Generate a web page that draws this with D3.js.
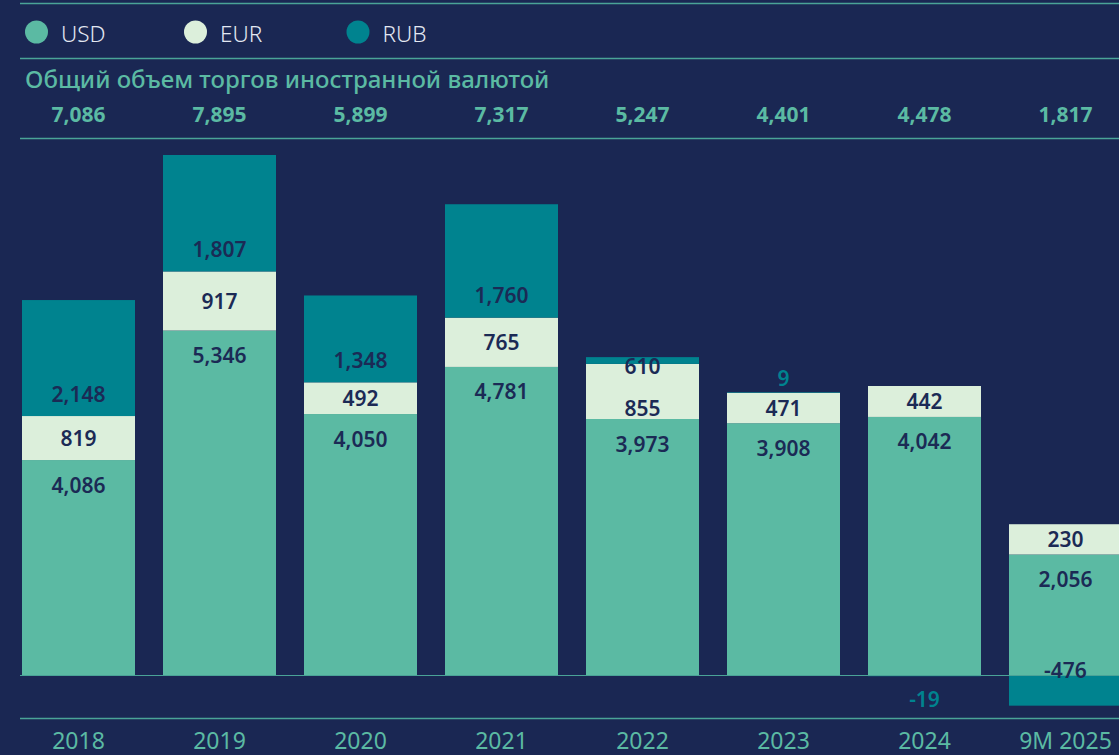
<!DOCTYPE html>
<html>
<head>
<meta charset="utf-8">
<script src="https://cdn.jsdelivr.net/npm/d3@7"></script>
<style>
  html, body { margin: 0; padding: 0; background: #1a2753; overflow: hidden; }
  svg { display: block; }
</style>
</head>
<body>
<svg id="chart" width="1119" height="755"></svg>
<script>
// ---- data ----
const years = ["2018", "2019", "2020", "2021", "2022", "2023", "2024", "9M 2025"];
// plotted segment values (as drawn in the picture)
const usdValues = [3336, 5346, 4050, 4781, 3973, 3908, 4005, 1870];
const eurValues = [683, 917, 492, 765, 855, 471, 480, 470];
const rubValues = [1800, 1807, 1348, 1760, 105, 9, -19, -476];
// printed labels
const usdLabels = ["4,086", "5,346", "4,050", "4,781", "3,973", "3,908", "4,042", "2,056"];
const eurLabels = ["819", "917", "492", "765", "855", "471", "442", "230"];
const rubLabels = ["2,148", "1,807", "1,348", "1,760", "610", "9", "-19", "-476"];
const totalLabels = ["7,086", "7,895", "5,899", "7,317", "5,247", "4,401", "4,478", "1,817"];
const legendItems = ["USD", "EUR", "RUB"];
const title = "Общий объем торгов иностранной валютой";

// ---- style ----
const C = {
  bg: "#1a2753",
  usd: "#5bbaa3",
  eur: "#dcefdb",
  rub: "#00838f",
  line: "#4aa397",
  dark: "#1b2a55",
  legendText: "#e3e8f2"
};
const FONT = "'Noto Sans', sans-serif";

const svg = d3.select("#chart");
svg.append("rect").attr("width", 1119).attr("height", 755).attr("fill", C.bg);

const x = d3.scaleBand().domain(years).range([22, 1122]).paddingInner(28 / 141).paddingOuter(0);
const y = d3.scaleLinear().domain([0, 8070]).range([675, 155]);

// ---- horizontal rules ----
[3.5, 58.5, 138.5, 718.5].forEach(yy => {
  svg.append("line").attr("x1", 20).attr("x2", 1119).attr("y1", yy).attr("y2", yy)
    .attr("stroke", C.line).attr("stroke-width", 1.5);
});

// ---- legend ----
const legendColors = [C.usd, C.eur, C.rub];
const legendX = [36.5, 195.5, 358];
const lg = svg.append("g");
legendItems.forEach((name, i) => {
  lg.append("circle").attr("cx", legendX[i]).attr("cy", 32).attr("r", 11.5).attr("fill", legendColors[i]);
  lg.append("text").attr("x", legendX[i] + 24.5).attr("y", 41.5)
    .attr("font-family", FONT).attr("font-weight", 300).attr("font-size", 22.5)
    .attr("fill", C.legendText).text(name);
});

// ---- title & totals ----
svg.append("text").attr("x", 25).attr("y", 88)
  .attr("font-family", FONT).attr("font-weight", 500).attr("font-size", 24)
  .attr("fill", C.usd).text(title);

svg.append("g").selectAll("text").data(years).join("text")
  .attr("x", d => x(d) + x.bandwidth() / 2).attr("y", 122)
  .attr("text-anchor", "middle")
  .attr("font-family", FONT).attr("font-weight", 700).attr("font-size", 21)
  .attr("fill", C.usd)
  .text((d, i) => totalLabels[i]);

// ---- bars ----
const bars = svg.append("g");
const rows = years.map((yr, i) => {
  const u = usdValues[i], e = eurValues[i], r = rubValues[i];
  return {
    yr, i,
    usd: [0, u],
    eur: [u, u + e],
    rub: r >= 0 ? [u + e, u + e + r] : [r, 0]
  };
});

function seg(key, color) {
  bars.selectAll("rect." + key).data(rows).join("rect").attr("class", key)
    .attr("x", d => x(d.yr)).attr("width", x.bandwidth())
    .attr("y", d => y(d[key][1]))
    .attr("height", d => Math.max(0, y(d[key][0]) - y(d[key][1])))
    .attr("fill", color);
}
seg("usd", C.usd);
seg("eur", C.eur);
seg("rub", C.rub);

// zero baseline
svg.append("line").attr("x1", 20).attr("x2", 1119).attr("y1", y(0) + 0.5).attr("y2", y(0) + 0.5)
  .attr("stroke", C.line).attr("stroke-width", 1);

// ---- value labels ----
const lab = svg.append("g").attr("font-family", FONT).attr("font-weight", 600)
  .attr("font-size", 21).attr("text-anchor", "middle");

function addLabel(xc, yc, txt, color) {
  lab.append("text").attr("x", xc).attr("y", yc).attr("dy", "0.36em")
    .attr("fill", color).text(txt);
}

rows.forEach(d => {
  const xc = x(d.yr) + x.bandwidth() / 2;
  const r = rubValues[d.i];
  const h = Math.abs(y(d.rub[1]) - y(d.rub[0]));
  const rubInsideEur = r >= 0 && h >= 3 && h < 40;
  // USD
  addLabel(xc, y(d.usd[1]) + 25, usdLabels[d.i], C.dark);
  // EUR (pushed down when the RUB label sits inside the EUR block)
  const eurMid = (y(d.eur[0]) + y(d.eur[1])) / 2;
  addLabel(xc, rubInsideEur ? eurMid + 17 : eurMid, eurLabels[d.i], C.dark);
  // RUB
  if (r >= 0) {
    if (h >= 40) addLabel(xc, y(d.rub[0]) - 22, rubLabels[d.i], C.dark);
    else if (h >= 3) addLabel(xc, y(d.rub[1]) + 9, rubLabels[d.i], C.dark);
    else addLabel(xc, y(d.rub[1]) - 14, rubLabels[d.i], C.rub);
  } else {
    if (h >= 3) addLabel(xc, y(0) - 5, rubLabels[d.i], C.dark);
    else addLabel(xc, y(0) + 24, rubLabels[d.i], C.rub);
  }
});

// ---- x axis (year labels) ----
const axis = svg.append("g").attr("transform", "translate(0,725)")
  .call(d3.axisBottom(x).tickSize(0).tickPadding(0));
axis.select(".domain").remove();
axis.selectAll("text")
  .attr("y", 24).attr("dy", 0)
  .attr("font-family", FONT).attr("font-weight", 400).attr("font-size", 23)
  .attr("fill", C.usd);
</script>
</body>
</html>
